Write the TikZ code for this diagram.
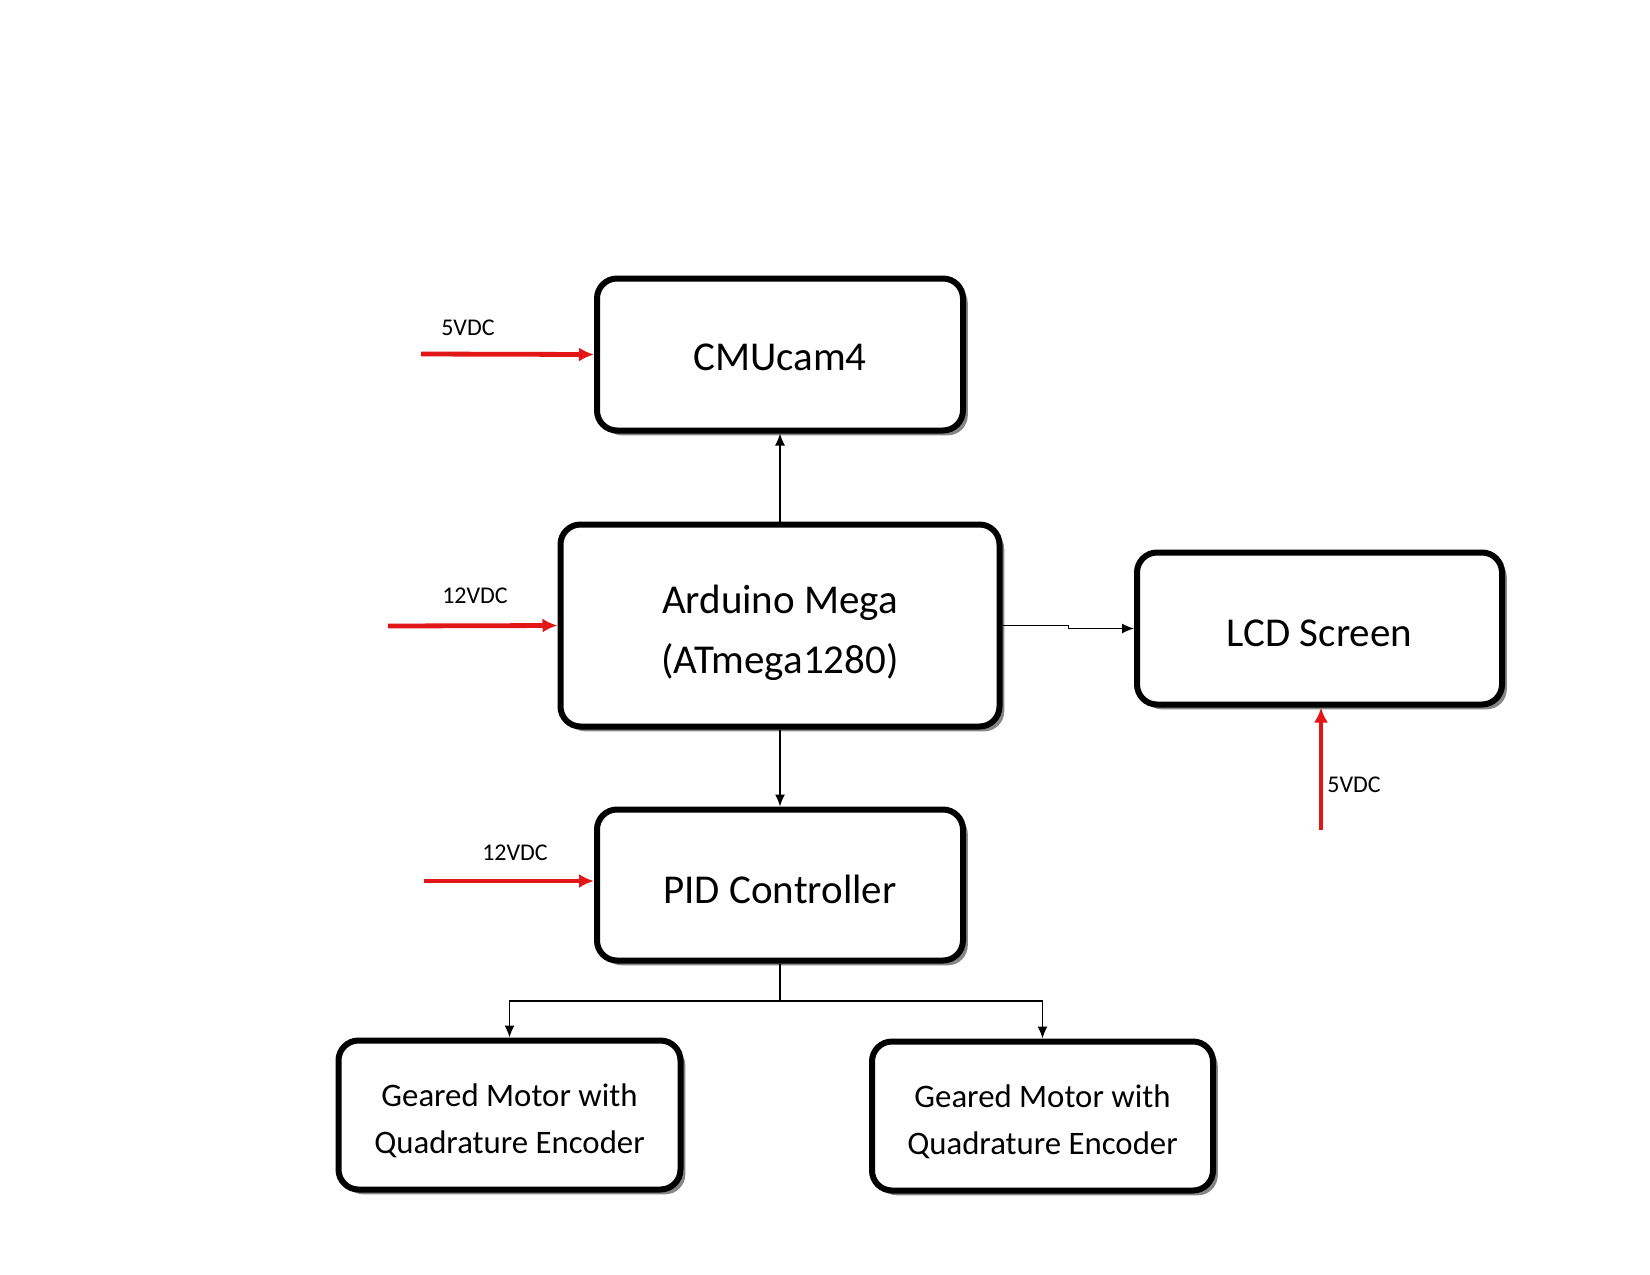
\documentclass[tikz,border=0pt]{standalone}
\usepackage{fontspec}
\setmainfont{Carlito}
\usetikzlibrary{arrows.meta, shadows}
\definecolor{pwr}{RGB}{226,22,22}

\begin{document}
\begin{tikzpicture}[x=0.5pt, y=-0.5pt,
    block/.style={draw, line width=3pt, rounded corners=10pt, fill=white,
      drop shadow={shadow xshift=2.4pt, shadow yshift=-2.4pt, fill=gray!95, opacity=1},
      align=center, inner sep=0pt, text height=18pt, text depth=0pt,
      font=\fontsize{20.5}{30}\selectfont},
    motor/.style={block, text height=38.5pt, font=\fontsize{16.4}{23.5}\selectfont},
    link/.style={-{Latex[length=6pt,width=5pt]}, line width=0.65pt},
    power/.style={-{Latex[length=7.5pt,width=7pt]}, line width=2.4pt, draw=pwr},
    volt/.style={font=\fontsize{12}{14}\selectfont, inner sep=0pt}]
  \useasboundingbox (0,0) rectangle (1650,1275);
  % blocks
  \node[block, minimum width=183pt, minimum height=76pt, text height=16pt] (cam) at (780,354.5) {CMUcam4};
  \node[block, minimum width=219.5pt, minimum height=101pt, text height=48pt] (ard) at (780,625.5) {Arduino Mega\\(ATmega1280)};
  \node[block, minimum width=182.5pt, minimum height=76pt] (lcd) at (1319.5,628.5) {LCD Screen};
  \node[block, minimum width=183pt, minimum height=75.5pt] (pid) at (780,885) {PID Controller};
  \node[motor, minimum width=171pt, minimum height=74.5pt] (mot1) at (509.5,1115) {Geared Motor with\\Quadrature Encoder};
  \node[motor, minimum width=170.5pt, minimum height=74.5pt] (mot2) at (1042.5,1116) {Geared Motor with\\Quadrature Encoder};
  % signal lines
  \draw[link] (ard.north) -- (cam.south);
  \draw[link] (ard.south) -- (pid.north);
  \draw[link] (ard.east) -- ++(66,0) |- (lcd.west);
  \coordinate (split) at (780,1001);
  \draw[line width=0.65pt] (pid.south) -- (split);
  \draw[link] (split) -| (mot1.north);
  \draw[link] (split) -| (mot2.north);
  % supplies
  \coordinate (camin) at (421,354);
  \draw[power] (camin) -- (cam.west);
  \node[volt] (camv) at (468,328) {5VDC};
  \coordinate (ardin) at (388,626);
  \draw[power] (ardin) -- (ard.west);
  \node[volt] (ardv) at (475,596) {12VDC};
  \coordinate (pidin) at (424,881);
  \draw[power] (pidin) -- (pidin -| pid.west);
  \node[volt] (pidv) at (515,853) {12VDC};
  \coordinate (lcdin) at (1321,830);
  \draw[power] (lcdin) -- (lcdin |- lcd.south);
  \node[volt, anchor=west] (lcdv) at (1327,785) {5VDC};
\end{tikzpicture}
\end{document}
